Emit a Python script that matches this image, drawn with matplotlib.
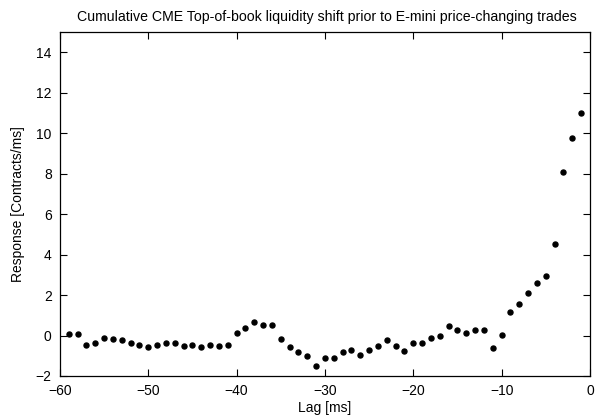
import matplotlib
matplotlib.use('Agg')
import matplotlib.pyplot as plt

plt.rcParams['font.family'] = ['Liberation Sans', 'DejaVu Sans']

# lag in ms, one point per ms
lag = list(range(-59, 0))
response = [0.07, 0.08, -0.45, -0.36, -0.12, -0.15, -0.21, -0.36, -0.45, -0.58,
            -0.45, -0.36, -0.38, -0.51, -0.45, -0.59, -0.47, -0.50, -0.45, 0.13,
            0.38, 0.66, 0.51, 0.53, -0.16, -0.58, -0.79, -1.02, -1.53, -1.12,
            -1.12, -0.83, -0.71, -0.96, -0.71, -0.53, -0.23, -0.50, -0.76, -0.38,
            -0.36, -0.12, -0.02, 0.46, 0.25, 0.12, 0.26, 0.25, -0.61, 0.03,
            1.15, 1.57, 2.08, 2.61, 2.95, 4.52, 8.07, 9.75, 10.98]

xticks = [-60, -50, -40, -30, -20, -10, 0]
yticks = [-2, 0, 2, 4, 6, 8, 10, 12, 14]

fig = plt.figure(figsize=(5.97, 4.18), dpi=100)
ax = fig.add_axes([0.1005, 0.1005, 0.8877, 0.8225])
ax.plot(lag, response, 'o', color='black', markersize=3.6)

ax.set_xlim(-60, 0)
ax.set_ylim(-2, 15)
ax.set_xticks(xticks)
ax.set_yticks(yticks)
ax.tick_params(direction='in', top=True, right=True, length=5, width=0.8,
               labelsize=10, pad=6)
for s in ax.spines.values():
    s.set_linewidth(0.9)

ax.set_xlabel('Lag [ms]', fontsize=10, labelpad=2)
ax.set_ylabel('Response [Contracts/ms]', fontsize=10, labelpad=8)
fig.suptitle('Cumulative CME Top-of-book liquidity shift prior to E-mini price-changing trades',
             fontsize=10.2, x=0.548, y=0.975)

fig.savefig('out.png', dpi=100)
